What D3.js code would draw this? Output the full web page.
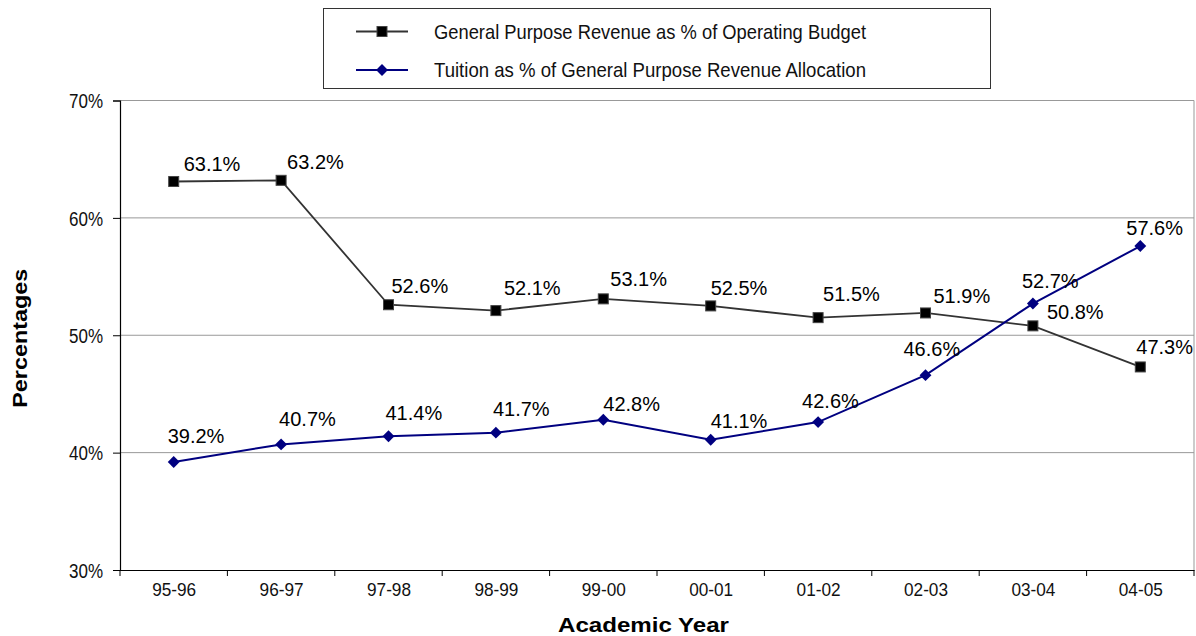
<!DOCTYPE html>
<html>
<head>
<meta charset="utf-8">
<script src="https://cdn.jsdelivr.net/npm/d3@7"></script>
<style>
  body { margin: 0; background: #fff; }
  svg { display: block; }
  .narrow { font-family: 'Liberation Sans Narrow', 'Arial Narrow', 'Liberation Sans', Arial, sans-serif; }
</style>
</head>
<body>
<svg width="1196" height="636"></svg>
<script>
const years = ['95-96', '96-97', '97-98', '98-99', '99-00', '00-01', '01-02', '02-03', '03-04', '04-05'];
const gprPct = [63.1, 63.2, 52.6, 52.1, 53.1, 52.5, 51.5, 51.9, 50.8, 47.3];
const tuitionPct = [39.2, 40.7, 41.4, 41.7, 42.8, 41.1, 42.6, 46.6, 52.7, 57.6];
const yTicks = [30, 40, 50, 60, 70];
const seriesNames = ['General Purpose Revenue as % of Operating Budget', 'Tuition as % of General Purpose Revenue Allocation'];

// label nudges (px) relative to each point, as placed in the original
const gprLabelDx = [10, 6, 3, 8, 7, 0, 5, 8, 14, -4];
const gprLabelDy = [-10, -11, -12, -16, -13, -11, -17, -10, -7, -13];
const tuitionLabelDx = [-6, -2, -3, -3, 0, 0, -16, -22, -11, -14];
const tuitionLabelDy = [-19, -18, -16, -17, -9, -12, -14, -19, -16, -11];

const plot = {left: 120, right: 1194, top: 100.5, bottom: 570};

const x = d3.scalePoint()
    .domain(years)
    .range([plot.left, plot.right])
    .padding(0.5);
const step = x.step();

const y = d3.scaleLinear()
    .domain([30, 70])
    .range([plot.bottom, plot.top]);

const svg = d3.select('svg');

// gridlines
svg.append('g')
  .selectAll('line')
  .data(yTicks.filter(d => d > 30))
  .enter()
  .append('line')
  .attr('x1', plot.left)
  .attr('x2', plot.right)
  .attr('y1', d => y(d))
  .attr('y2', d => y(d))
  .attr('stroke', '#999')
  .attr('stroke-width', 1);

// right border of plot area
svg.append('line')
  .attr('x1', plot.right).attr('x2', plot.right)
  .attr('y1', plot.top).attr('y2', plot.bottom)
  .attr('stroke', '#999');

// y axis
const yAxis = d3.axisLeft(y)
    .tickValues(yTicks)
    .tickFormat(d => d + '%')
    .tickSize(7)
    .tickPadding(10);

const gy = svg.append('g')
  .attr('transform', `translate(${plot.left},0)`)
  .call(yAxis);
gy.select('.domain').attr('stroke', '#000').attr('stroke-width', 1.2);
gy.selectAll('.tick line').attr('stroke', '#000');
gy.selectAll('.tick text')
  .attr('class', 'narrow')
  .attr('font-size', 20)
  .attr('fill', '#111')
  .attr('dy', '0.36em')
  .attr('textLength', 34)
  .attr('lengthAdjust', 'spacingAndGlyphs');

// x axis: ticks between categories
const xAxis = d3.axisBottom(x).tickSize(0).tickPadding(13);
const gx = svg.append('g')
  .attr('transform', `translate(0,${plot.bottom})`)
  .call(xAxis);
gx.select('.domain').attr('stroke', '#000').attr('stroke-width', 1.2);
gx.selectAll('.tick text')
  .attr('class', 'narrow')
  .attr('font-size', 19)
  .attr('fill', '#111')
  .attr('textLength', 44)
  .attr('lengthAdjust', 'spacingAndGlyphs');

gx.selectAll('line.sep')
  .data(d3.range(years.length + 1))
  .enter()
  .append('line')
  .attr('class', 'sep')
  .attr('x1', i => plot.left + i * step)
  .attr('x2', i => plot.left + i * step)
  .attr('y1', 0)
  .attr('y2', 6)
  .attr('stroke', '#000');

// axis titles
svg.append('text')
  .attr('transform', `translate(27,${(plot.top + plot.bottom) / 2 + 3}) rotate(-90)`)
  .attr('text-anchor', 'middle')
  .attr('font-family', 'Liberation Sans, Arial, sans-serif')
  .attr('font-weight', 'bold')
  .attr('font-size', 20)
  .attr('textLength', 139)
  .attr('lengthAdjust', 'spacingAndGlyphs')
  .text('Percentages');

svg.append('text')
  .attr('x', 643.5)
  .attr('y', 632)
  .attr('text-anchor', 'middle')
  .attr('font-family', 'Liberation Sans, Arial, sans-serif')
  .attr('font-weight', 'bold')
  .attr('font-size', 20)
  .attr('textLength', 171)
  .attr('lengthAdjust', 'spacingAndGlyphs')
  .text('Academic Year');

// lines
const line = d3.line()
    .x((d, i) => x(years[i]))
    .y(d => y(d));

svg.append('path')
  .datum(gprPct)
  .attr('d', line)
  .attr('fill', 'none')
  .attr('stroke', '#333')
  .attr('stroke-width', 1.8);

svg.append('path')
  .datum(tuitionPct)
  .attr('d', line)
  .attr('fill', 'none')
  .attr('stroke', '#000080')
  .attr('stroke-width', 2);

// markers
svg.append('g')
  .selectAll('rect')
  .data(gprPct)
  .enter()
  .append('rect')
  .attr('x', (d, i) => x(years[i]) - 5)
  .attr('y', d => y(d) - 5)
  .attr('width', 10)
  .attr('height', 10)
  .attr('fill', '#000')
  .attr('stroke', '#444')
  .attr('stroke-width', 1);

const diamond = d3.symbol().type(d3.symbolDiamond2).size(90);
svg.append('g')
  .selectAll('path')
  .data(tuitionPct)
  .enter()
  .append('path')
  .attr('d', diamond)
  .attr('transform', (d, i) => `translate(${x(years[i])},${y(d)})`)
  .attr('fill', '#000080');

// data labels
function addLabels(vals, dxs, dys) {
  svg.append('g')
    .selectAll('text')
    .data(vals)
    .enter()
    .append('text')
    .attr('x', (d, i) => x(years[i]) + dxs[i])
    .attr('y', (d, i) => y(d) + dys[i])
    .attr('font-family', 'Liberation Sans, Arial, sans-serif')
    .attr('font-size', 20)
    .attr('fill', '#000')
    .text(d => d.toFixed(1) + '%');
}
addLabels(gprPct, gprLabelDx, gprLabelDy);
addLabels(tuitionPct, tuitionLabelDx, tuitionLabelDy);

// legend
const legend = svg.append('g');
legend.append('rect')
  .attr('x', 323.5)
  .attr('y', 8.5)
  .attr('width', 667)
  .attr('height', 80)
  .attr('fill', '#fff')
  .attr('stroke', '#333')
  .attr('stroke-width', 1);

const legendRows = legend.selectAll('g.row')
  .data(seriesNames)
  .enter()
  .append('g')
  .attr('class', 'row')
  .attr('transform', (d, i) => `translate(0,${i === 0 ? 31.5 : 70})`);

legendRows.append('line')
  .attr('x1', 356)
  .attr('x2', 408)
  .attr('stroke', (d, i) => i === 0 ? '#333' : '#000080')
  .attr('stroke-width', (d, i) => i === 0 ? 1.8 : 2);

legendRows.filter((d, i) => i === 0)
  .append('rect')
  .attr('x', 377).attr('y', -5)
  .attr('width', 10).attr('height', 10)
  .attr('fill', '#000').attr('stroke', '#444');

legendRows.filter((d, i) => i === 1)
  .append('path')
  .attr('d', diamond)
  .attr('transform', 'translate(382,0)')
  .attr('fill', '#000080');

legendRows.append('text')
  .attr('class', 'narrow')
  .attr('x', 434)
  .attr('y', 7)
  .attr('font-size', 21)
  .attr('fill', '#111')
  .attr('textLength', 432)
  .attr('lengthAdjust', 'spacingAndGlyphs')
  .text(d => d);
</script>
</body>
</html>
